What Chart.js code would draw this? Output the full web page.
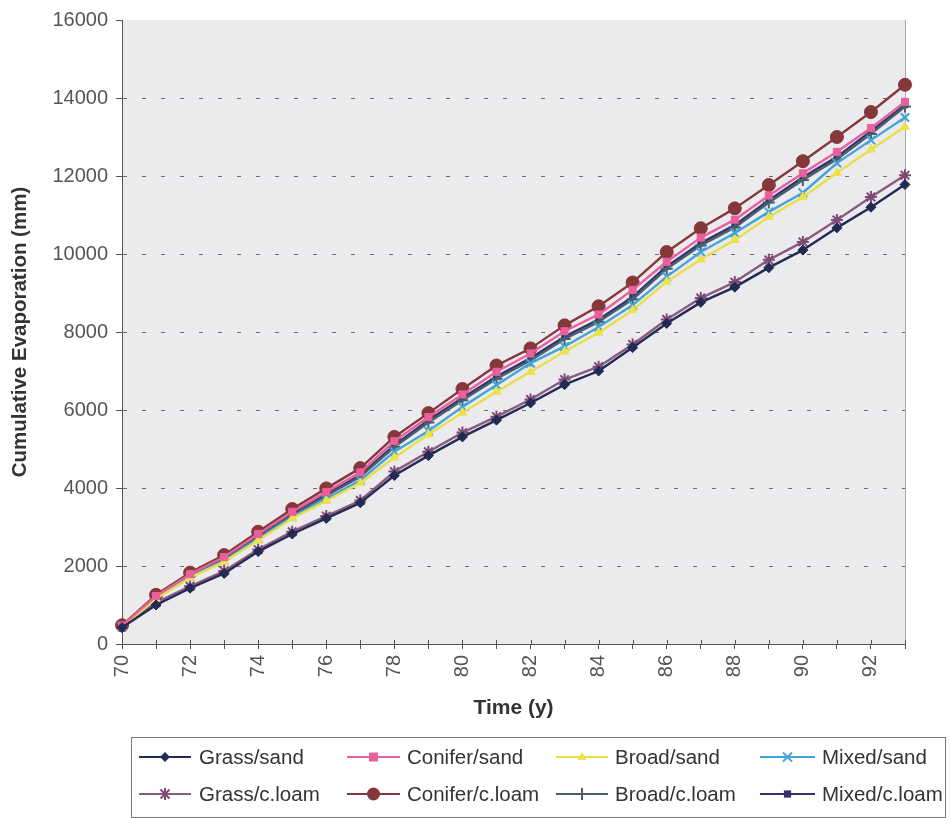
<!DOCTYPE html>
<html>
<head>
<meta charset="utf-8">
<script src="https://cdn.jsdelivr.net/npm/chart.js"></script>
<style>
html,body{margin:0;padding:0;background:#fff;}
#wrap{width:950px;height:818px;position:relative;}
</style>
</head>
<body>
<div id="wrap"><canvas id="c" width="950" height="818"></canvas></div>
<script>
// ---- data ----
const years = ['70','71','72','73','74','75','76','77','78','79','80','81','82','83','84','85','86','87','88','89','90','91','92','93'];
const xTickLabels = ['70','','72','','74','','76','','78','','80','','82','','84','','86','','88','','90','','92',''];
const yTickValues = [0,2000,4000,6000,8000,10000,12000,14000,16000];

const grassSand    = [420,1000,1430,1810,2370,2820,3220,3620,4320,4830,5310,5740,6180,6650,7000,7600,8220,8760,9150,9650,10100,10670,11200,11780];
const coniferSand  = [470,1230,1790,2230,2820,3390,3900,4400,5200,5820,6400,6980,7450,8020,8450,9080,9800,10420,10880,11500,12070,12620,13230,13900];
const broadSand    = [440,1160,1700,2110,2660,3220,3670,4130,4780,5370,5930,6470,6980,7500,7980,8560,9290,9860,10360,10950,11460,12080,12680,13260];
const mixedSand    = [450,1180,1720,2140,2700,3260,3720,4200,4930,5460,6080,6640,7200,7630,8130,8690,9420,10050,10540,11080,11570,12330,12920,13500];
const grassLoam    = [440,1060,1480,1870,2420,2880,3280,3680,4420,4930,5420,5830,6270,6780,7110,7680,8320,8870,9280,9850,10310,10870,11460,12020];
const coniferLoam  = [480,1260,1830,2280,2880,3460,3990,4510,5310,5920,6540,7140,7580,8170,8660,9270,10050,10660,11170,11770,12380,13000,13640,14340];
const broadLoam    = [460,1200,1750,2180,2760,3310,3800,4290,5050,5680,6250,6800,7270,7820,8260,8840,9620,10220,10680,11320,11900,12430,13080,13780];
const mixedLoam    = [460,1210,1760,2200,2780,3340,3840,4330,5100,5740,6310,6860,7330,7880,8320,8900,9680,10280,10740,11380,11970,12490,13150,13820];

const seriesNames = ['Grass/sand','Conifer/sand','Broad/sand','Mixed/sand','Grass/c.loam','Conifer/c.loam','Broad/c.loam','Mixed/c.loam'];
const seriesData = [grassSand, coniferSand, broadSand, mixedSand, grassLoam, coniferLoam, broadLoam, mixedLoam];

// ---- styles ----
const lineColors   = ['#222a55','#e8609c','#e6df4a','#45a3da','#8a5a80','#86373a','#44606e','#3a2e6c'];
const markerColors = ['#222a55','#e8609c','#ece24a','#45a3da','#7e4a74','#86373a','#44606e','#3a2e6c'];
const markerStyles = ['rectRot','rect','triangle','crossRot','star','circle','cross','rect'];
const markerRadius = [5,5,5,6,6,6.5,6,4];

const FONT = '"Liberation Sans", Arial, sans-serif';

const datasets = seriesData.map((d,i)=>({
  label: seriesNames[i],
  data: d,
  borderColor: lineColors[i],
  backgroundColor: markerColors[i],
  borderWidth: 2.4,
  pointStyle: markerStyles[i],
  pointRadius: markerRadius[i],
  pointBackgroundColor: markerColors[i],
  pointBorderColor: markerColors[i],
  pointBorderWidth: (markerStyles[i]==='cross'||markerStyles[i]==='crossRot'||markerStyles[i]==='star') ? 2 : 1,
  tension: 0,
  fill: false
}));

function drawMarker(ctx, style, r, x, y, color){
  ctx.save();
  ctx.fillStyle = color; ctx.strokeStyle = color; ctx.lineWidth = 2;
  ctx.beginPath();
  if(style==='circle'){ ctx.arc(x,y,r,0,Math.PI*2); ctx.fill(); }
  else if(style==='rect'){ ctx.fillRect(x-r*0.9,y-r*0.9,r*1.8,r*1.8); }
  else if(style==='rectRot'){ ctx.moveTo(x,y-r); ctx.lineTo(x+r,y); ctx.lineTo(x,y+r); ctx.lineTo(x-r,y); ctx.closePath(); ctx.fill(); }
  else if(style==='triangle'){ ctx.moveTo(x,y-r); ctx.lineTo(x+r*0.9,y+r*0.6); ctx.lineTo(x-r*0.9,y+r*0.6); ctx.closePath(); ctx.fill(); }
  else if(style==='crossRot'){ const d=r*0.75; ctx.moveTo(x-d,y-d); ctx.lineTo(x+d,y+d); ctx.moveTo(x+d,y-d); ctx.lineTo(x-d,y+d); ctx.stroke(); }
  else if(style==='cross'){ ctx.moveTo(x,y-r); ctx.lineTo(x,y+r); ctx.moveTo(x-r,y); ctx.lineTo(x+r,y); ctx.stroke(); }
  else if(style==='star'){ const d=r*0.75; ctx.moveTo(x,y-r); ctx.lineTo(x,y+r); ctx.moveTo(x-d,y-d); ctx.lineTo(x+d,y+d); ctx.moveTo(x+d,y-d); ctx.lineTo(x-d,y+d); ctx.stroke(); }
  ctx.restore();
}

const plotBg = {
  id:'plotBg',
  beforeDraw(chart){
    const {ctx, chartArea:a} = chart;
    ctx.save();
    ctx.fillStyle = '#ebebee';
    ctx.fillRect(a.left, a.top, a.right-a.left, a.bottom-a.top);
    ctx.strokeStyle = '#a8a8ae'; ctx.lineWidth = 1;
    ctx.beginPath(); ctx.moveTo(Math.round(a.right)+0.5, a.top); ctx.lineTo(Math.round(a.right)+0.5, a.bottom); ctx.stroke();
    ctx.restore();
  },
  afterDraw(chart){
    // inner half of x-axis tick marks
    const {ctx, chartArea:a} = chart;
    const xs = chart.scales.x;
    ctx.save();
    ctx.strokeStyle = '#555'; ctx.lineWidth = 1;
    ctx.beginPath();
    for(let i=0;i<years.length;i++){
      const px = Math.round(xs.getPixelForValue(i))+0.5;
      ctx.moveTo(px, a.bottom); ctx.lineTo(px, a.bottom-4);
    }
    ctx.stroke();
    ctx.restore();
  }
};

const legendBox = {
  id:'legendBox',
  afterDraw(chart){
    const ctx = chart.ctx;
    ctx.save();
    ctx.strokeStyle = '#7a7a7a'; ctx.lineWidth = 1;
    ctx.strokeRect(131.5, 737.5, 814, 80);
    const lineStart = [139, 347, 556, 760];
    const lineEnd   = [191, 400, 608, 815];
    const textX     = [199, 407, 615, 822];
    const rowY      = [757, 794];
    ctx.font = '20.5px ' + FONT;
    ctx.textBaseline = 'middle';
    ctx.textAlign = 'left';
    for(let i=0;i<8;i++){
      const col = i%4, row = Math.floor(i/4);
      const y = rowY[row];
      ctx.strokeStyle = lineColors[i]; ctx.lineWidth = 2;
      ctx.beginPath(); ctx.moveTo(lineStart[col], y); ctx.lineTo(lineEnd[col], y); ctx.stroke();
      drawMarker(ctx, markerStyles[i], markerRadius[i], (lineStart[col]+lineEnd[col])/2, y, markerColors[i]);
      ctx.fillStyle = '#333';
      ctx.fillText(seriesNames[i], textX[col], y+1);
    }
    ctx.restore();
  }
};

new Chart(document.getElementById('c'), {
  type:'line',
  data:{ labels: years, datasets },
  plugins:[plotBg, legendBox],
  options:{
    responsive:false,
    animation:false,
    devicePixelRatio:1,
    layout:{ padding:{ left:4, top:20, right:45, bottom:93 } },
    plugins:{ legend:{display:false}, tooltip:{enabled:false}, title:{display:false} },
    elements:{ line:{ borderJoinStyle:'round' } },
    scales:{
      x:{
        type:'category',
        offset:false,
        afterFit(s){ s.height = 81; },
        grid:{ drawOnChartArea:false, drawTicks:true, tickLength:5, color:'#555', tickColor:'#555' },
        border:{ display:true, color:'#555', width:1 },
        ticks:{
          autoSkip:false, maxRotation:90, minRotation:90, padding:6,
          color:'#555', font:{ family:FONT, size:20 },
          callback:(v,i)=>xTickLabels[i]
        },
        title:{ display:true, text:'Time (y)', color:'#333', font:{ family:FONT, size:21, weight:'bold' }, padding:{top:4,bottom:4} }
      },
      y:{
        min:0, max:16000,
        afterFit(s){ s.width = 118; },
        afterBuildTicks(s){ s.ticks = yTickValues.map(v=>({value:v})); },
        grid:{
          color:(c)=> (c.tick && (c.tick.value===0 || c.tick.value===16000)) ? 'rgba(0,0,0,0)' : '#6a6a70',
          tickColor:'#555', tickLength:6, tickBorderDash:[], lineWidth:1
        },
        border:{ display:true, color:'#555', width:1, dash:[4,15] },
        ticks:{ padding:8, color:'#555', font:{ family:FONT, size:20 }, callback:(v)=>String(v) },
        title:{ display:true, text:'Cumulative Evaporation (mm)', color:'#333', font:{ family:FONT, size:20.5, weight:'bold' }, padding:{top:4,bottom:4} }
      }
    }
  }
});
</script>
</body>
</html>
